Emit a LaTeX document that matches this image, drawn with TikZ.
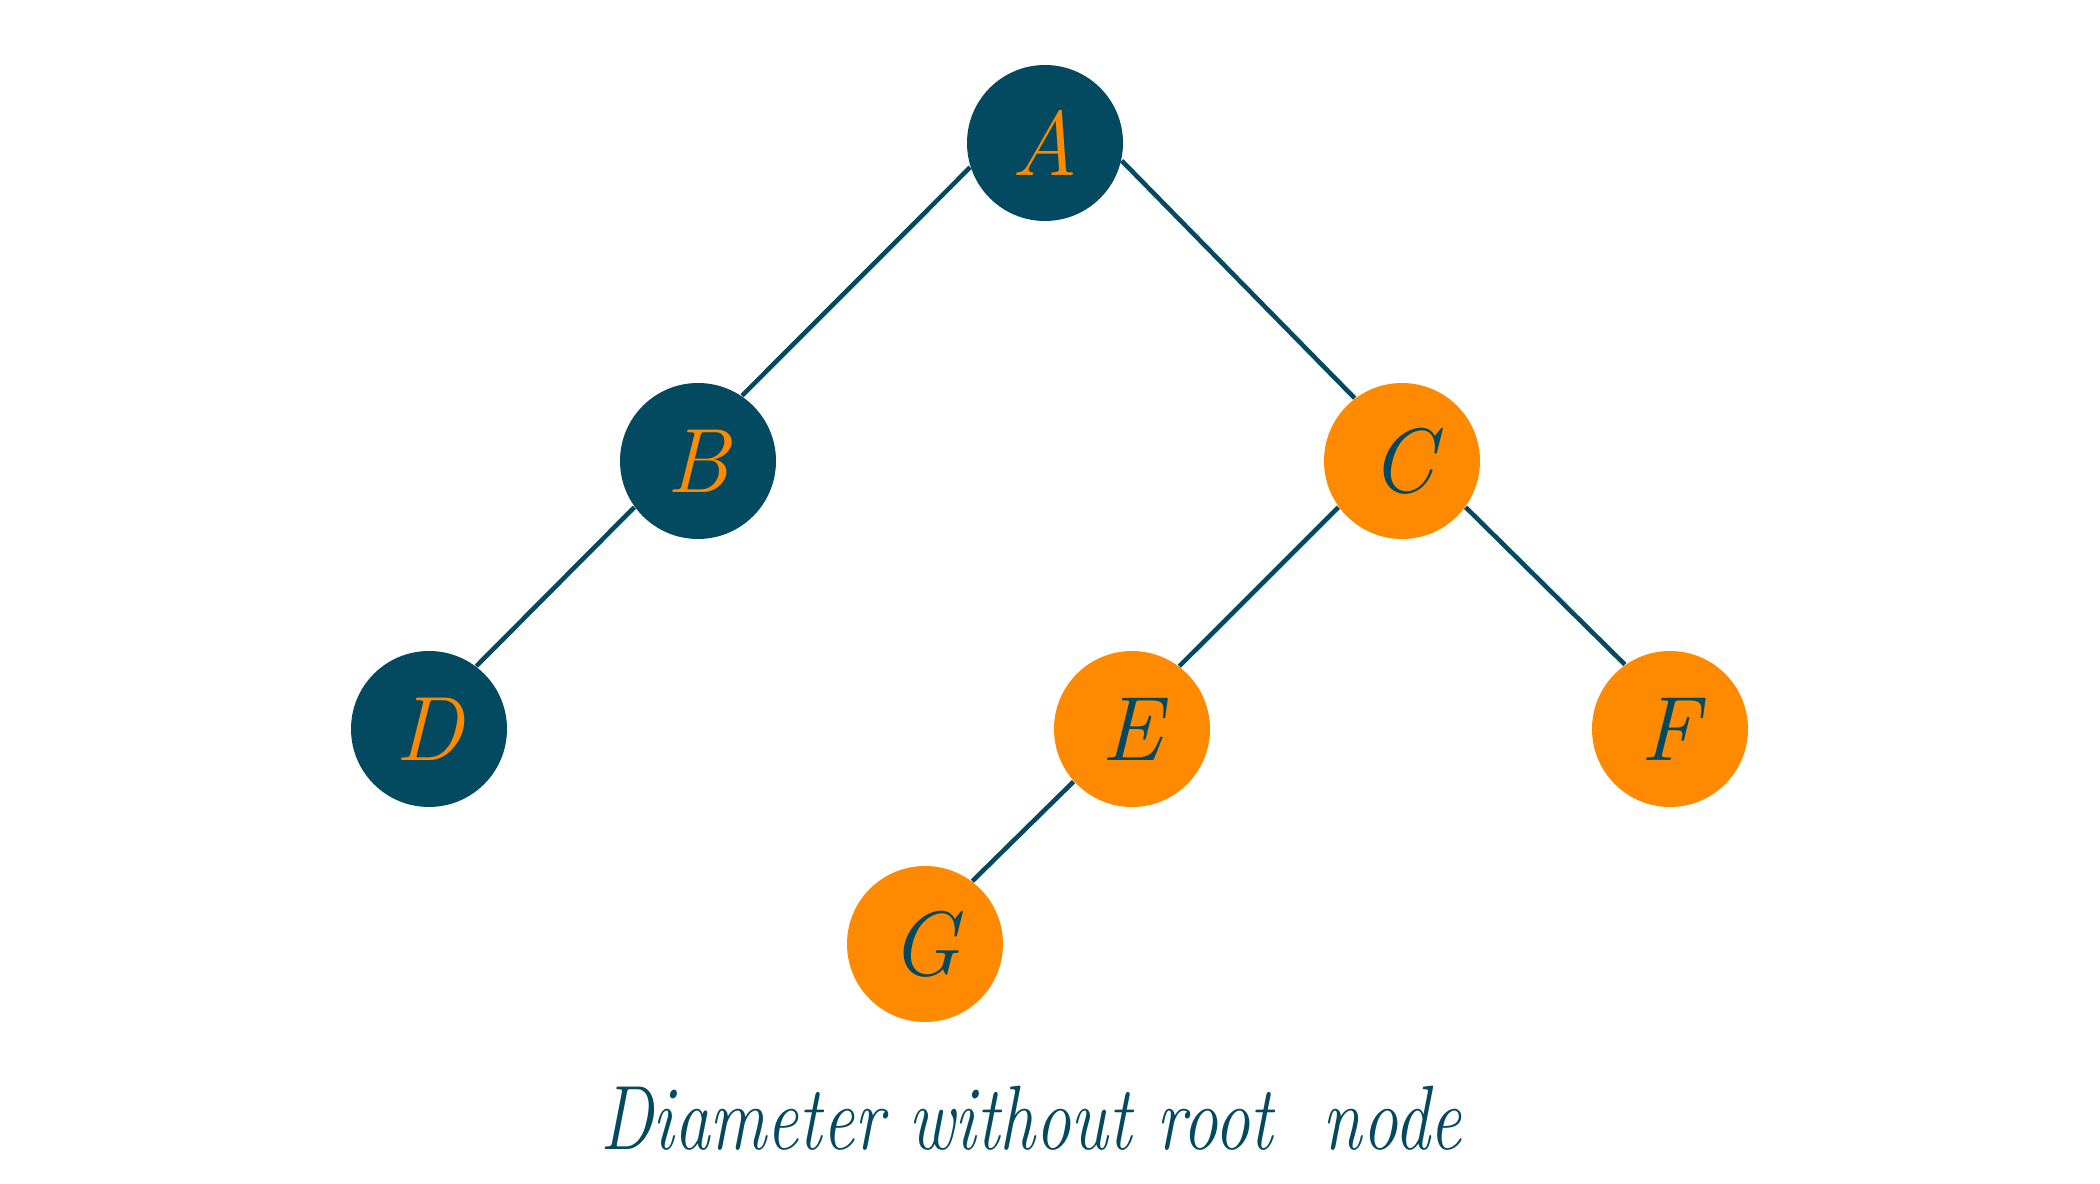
\documentclass[tikz,border=0pt]{standalone}
\usepackage{fontspec}
\definecolor{teal}{RGB}{3,74,97}
\definecolor{orng}{RGB}{255,138,0}
\tikzset{
  dark/.style={circle,fill=teal,minimum size=1.56cm,inner sep=0pt,text=orng,font=\fontsize{26}{28}\selectfont\itshape},
  light/.style={circle,fill=orng,minimum size=1.56cm,inner sep=0pt,text=teal,font=\fontsize{26}{28}\selectfont\itshape},
  edge/.style={draw=teal,line width=1.3pt}
}
\begin{document}
\begin{tikzpicture}
[x=1cm,y=1cm]
\useasboundingbox (0,0) rectangle (21,-11.84);
\node[dark] (A) at (10.45,-1.43) {A};
\node[dark] (B) at (6.98,-4.61) {B};
\node[light] (C) at (14.02,-4.61) {C};
\node[dark] (D) at (4.29,-7.29) {D};
\node[light] (E) at (11.32,-7.29) {E};
\node[light] (F) at (16.70,-7.29) {F};
\node[light] (G) at (9.25,-9.44) {G};
\draw[edge] (A.198) -- (B.56);
\draw[edge] (A.347) -- (C.127);
\draw[edge] (B.216) -- (D.53);
\draw[edge] (C.216) -- (E.53);
\draw[edge] (C.324) -- (F.125);
\draw[edge] (E.222) -- (G.53);
\node[text=teal,font=\fontsize{26}{28}\selectfont\itshape,xscale=0.78] (cap) at (10.31,-11.18) {Diameter without root\ \ node};
\end{tikzpicture}
\end{document}
